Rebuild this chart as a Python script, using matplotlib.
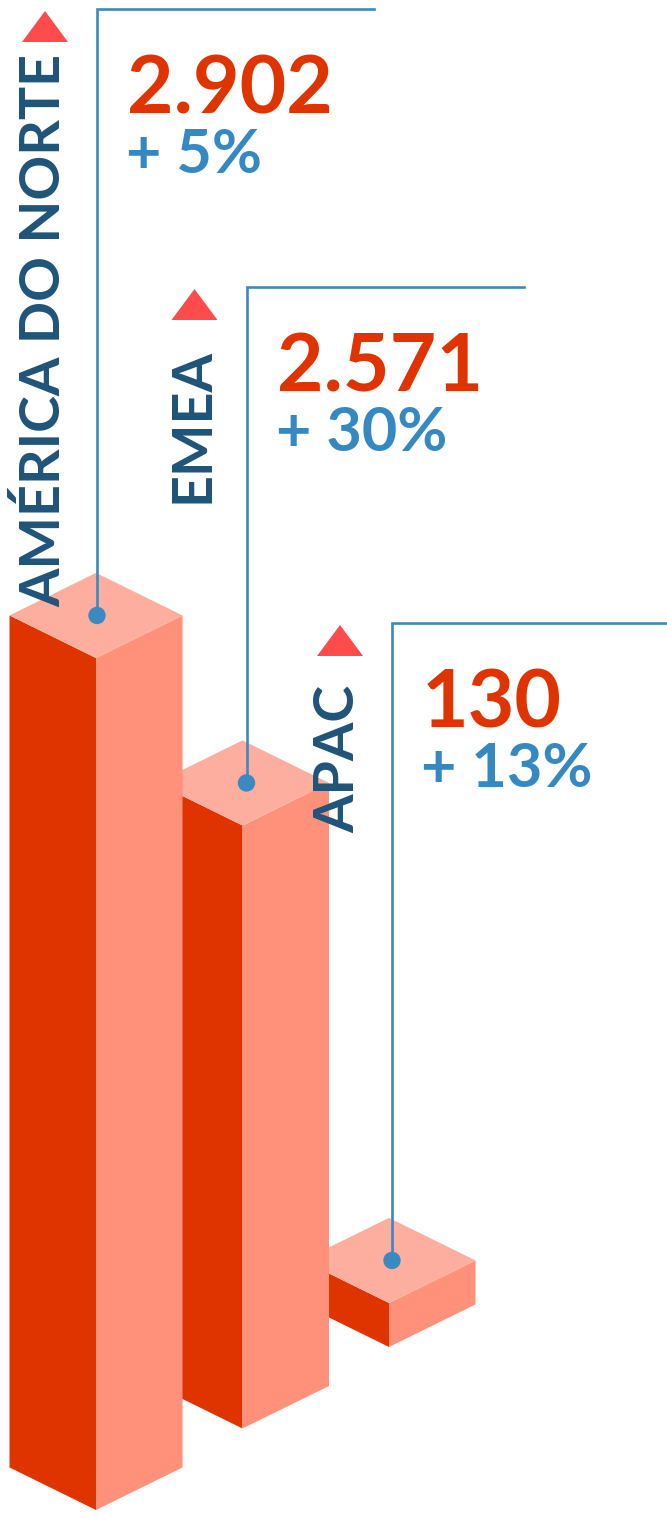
from matplotlib import pyplot as plt
from matplotlib.patches import Polygon, Circle

# Data
regions = ['AMÉRICA DO NORTE', 'EMEA', 'APAC']
values = ['2.902', '2.571', '130']
growth = ['+ 5%', '+ 30%', '+ 13%']
# drawn bar heights (the original bars are not drawn to scale)
bar_heights = [852, 603, 44]

# layout (pixel units)
W, H = 667, 1519
half_w = 86.5
slope = 0.492
step_x, step_y = 146.5, -81.5
base_x, base_y = 96, 1510
callout_dx = [1, 4, 3]
callout_top = [9, 287, 623]
label_top = [54, 348, 685]
callout_len = 277

DARK = '#E03400'
SIDE = '#FF917B'
TOP = '#FDAE9F'
TRI = '#FF4B4B'
NAVY = '#1F5479'
BLUE = '#3589C2'
LINE = '#3A8AC2'

plt.rcParams['font.family'] = ['Lato', 'DejaVu Sans']

fig = plt.figure(figsize=(W / 100, H / 100), dpi=100)
ax = fig.add_axes([0, 0, 1, 1])
ax.set_xlim(0, W)
ax.set_ylim(H, 0)
ax.axis('off')

dy = half_w * slope

# draw back to front so the front bar covers the others
for i in reversed(range(len(regions))):
    x0 = base_x + i * step_x
    y0 = base_y + i * step_y
    h = bar_heights[i]

    left = [(x0 - half_w, y0 - dy), (x0, y0), (x0, y0 - h), (x0 - half_w, y0 - dy - h)]
    right = [(x0, y0), (x0 + half_w, y0 - dy), (x0 + half_w, y0 - dy - h), (x0, y0 - h)]
    top = [(x0, y0 - h), (x0 - half_w, y0 - h - dy), (x0, y0 - h - 2 * dy), (x0 + half_w, y0 - h - dy)]
    ax.add_patch(Polygon(left, closed=True, facecolor=DARK, edgecolor='none', zorder=2))
    ax.add_patch(Polygon(right, closed=True, facecolor=SIDE, edgecolor='none', zorder=2))
    ax.add_patch(Polygon(top, closed=True, facecolor=TOP, edgecolor='none', zorder=2))

for i in range(len(regions)):
    x0 = base_x + i * step_x
    y0 = base_y + i * step_y
    h = bar_heights[i]
    dot_y = y0 - h - dy
    cx = x0 + callout_dx[i]
    yt = callout_top[i]

    # leader line from the top of the bar to the callout
    ax.plot([cx, cx, cx + callout_len], [dot_y, yt, yt], color=LINE, lw=1.9,
            solid_joinstyle='miter', zorder=3)
    ax.add_patch(Circle((cx, dot_y), 8, color=LINE, zorder=4))

    # little up-triangle and the rotated region name
    tx = cx - 52
    ax.add_patch(Polygon([(tx - 23, yt + 33), (tx + 23, yt + 33), (tx, yt + 2)],
                         closed=True, facecolor=TRI, edgecolor='none', zorder=5))
    ax.text(tx - 2, label_top[i], regions[i], rotation=90, ha='center', va='top',
            fontsize=40, fontweight='bold', color=NAVY, zorder=6)

    ax.text(cx + 30, yt + 105, values[i], ha='left', va='baseline',
            fontsize=58, fontweight='bold', color=DARK, zorder=6)
    ax.text(cx + 29, yt + 164, growth[i], ha='left', va='baseline',
            fontsize=44, fontweight='bold', color=BLUE, zorder=6)

fig.savefig('out.png', dpi=100, facecolor='white')
